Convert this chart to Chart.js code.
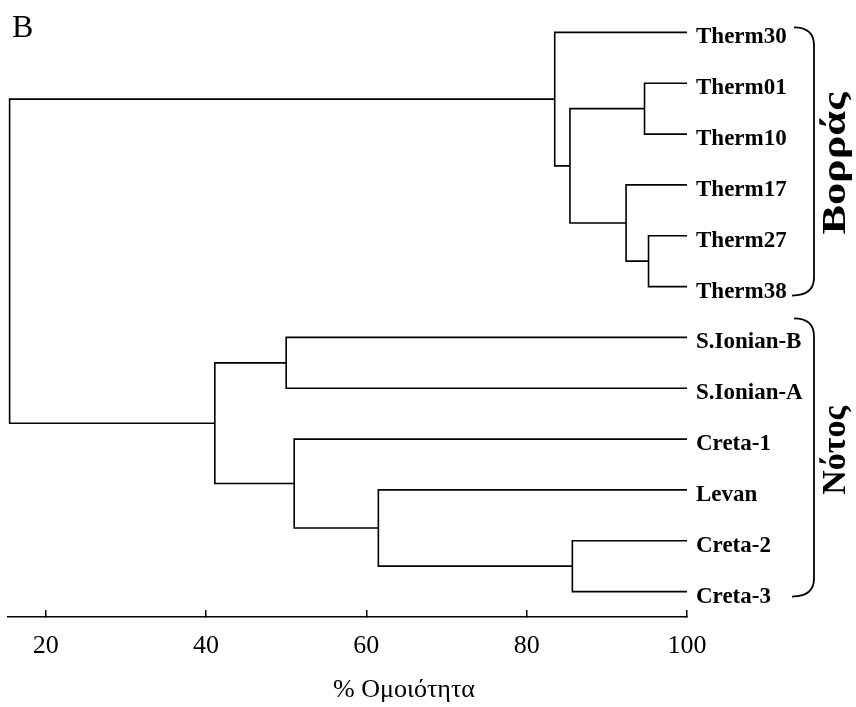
<!DOCTYPE html>
<html>
<head>
<meta charset="utf-8">
<script src="https://cdn.jsdelivr.net/npm/chart.js@4/dist/chart.umd.min.js"></script>
<style>
    body { margin: 0; background: #fff; }
    canvas { display: block; }
</style>
</head>
<body>
<canvas id="dendro" width="856" height="707"></canvas>
<script>
// leaves, top to bottom
const leaves = ['Therm30', 'Therm01', 'Therm10', 'Therm17', 'Therm27', 'Therm38',
    'S.Ionian-B', 'S.Ionian-A', 'Creta-1', 'Levan', 'Creta-2', 'Creta-3'];

// merges: ids 0-11 are leaves, merge k makes cluster 12 + k
const mergeA = [1, 4, 3, 12, 0, 10, 9, 8, 6, 20, 16];
const mergeB = [2, 5, 13, 14, 15, 11, 17, 18, 7, 19, 21];
const mergeLevel = [94.7, 95.2, 92.4, 85.4, 83.5, 85.7, 61.5, 51.0, 50.0, 41.1, 15.5];

const xTicks = [20, 40, 60, 80, 100];

const groups = ['Βορράς', 'Νότος'];
const groupFirst = [0, 6];
const groupLast = [5, 11];

const serif = "'Liberation Serif', 'Times New Roman', serif";

// node positions (x = similarity, y = leaf slot)
const nodeX = leaves.map(() => 100);
const nodeY = leaves.map((_, i) => i);
mergeLevel.forEach((lv, k) => {
    nodeX.push(lv);
    nodeY.push((nodeY[mergeA[k]] + nodeY[mergeB[k]]) / 2);
});

const datasets = mergeLevel.map((lv, k) => {
    const a = mergeA[k], b = mergeB[k];
    return {
        data: [
            { x: nodeX[a], y: nodeY[a] },
            { x: lv, y: nodeY[a] },
            { x: lv, y: nodeY[b] },
            { x: nodeX[b], y: nodeY[b] }
        ],
        showLine: true,
        borderColor: '#000',
        borderWidth: 1.6,
        pointRadius: 0,
        tension: 0,
        clip: false
    };
});

const extras = {
    id: 'extras',
    afterDraw(chart) {
        const ctx = chart.ctx;
        const y = chart.scales.y;
        const x = chart.scales.x;
        ctx.save();
        ctx.fillStyle = '#000';
        ctx.strokeStyle = '#000';

        // panel letter
        ctx.font = '32px ' + serif;
        ctx.textAlign = 'left';
        ctx.textBaseline = 'alphabetic';
        ctx.fillText('B', 12, 37);

        // axis title
        ctx.font = '26px ' + serif;
        ctx.textAlign = 'center';
        ctx.fillText('% Ομοιότητα', 404, 697);

        // brackets + group names
        const pads = [[-5, 9], [-19, 5]];
        const shift = [2, -7];
        const stretch = [1.3, 1.0];
        const xv = 814;
        groups.forEach((name, g) => {
            const top = y.getPixelForValue(groupFirst[g]) + pads[g][0];
            const bot = y.getPixelForValue(groupLast[g]) + pads[g][1];
            ctx.lineWidth = 1.8;
            ctx.beginPath();
            ctx.moveTo(794, top);
            ctx.bezierCurveTo(808, top, xv, top + 6, xv, top + 18);
            ctx.lineTo(xv, bot - 18);
            ctx.bezierCurveTo(xv, bot - 6, 806, bot, 792, bot);
            ctx.stroke();

            ctx.save();
            ctx.translate(845, (top + bot) / 2 + shift[g]);
            ctx.rotate(-Math.PI / 2);
            ctx.scale(stretch[g], 1);
            ctx.font = 'bold 34px ' + serif;
            ctx.textAlign = 'center';
            ctx.textBaseline = 'alphabetic';
            ctx.fillText(name, 0, 0);
            ctx.restore();
        });
        ctx.restore();
    }
};

new Chart(document.getElementById('dendro'), {
    type: 'scatter',
    data: { datasets },
    options: {
        responsive: false,
        animation: false,
        events: [],
        layout: { padding: { left: 8, right: 0, top: 7, bottom: 0 } },
        plugins: {
            legend: { display: false },
            tooltip: { enabled: false }
        },
        scales: {
            x: {
                type: 'linear',
                min: 15.3,
                max: 100,
                afterBuildTicks: (s) => { s.ticks = xTicks.map(v => ({ value: v })); },
                afterFit: (s) => { s.height = 90; },
                border: { display: true, color: '#000', width: 1.5 },
                grid: { display: true, drawOnChartArea: false, drawTicks: true, tickLength: -7, color: '#000', lineWidth: 1.5 },
                ticks: { color: '#000', padding: 21, maxRotation: 0, font: { family: serif, size: 26 } }
            },
            y: {
                type: 'linear',
                position: 'right',
                reverse: true,
                min: -0.5,
                max: 11.5,
                afterBuildTicks: (s) => { s.ticks = leaves.map((_, i) => ({ value: i })); },
                afterFit: (s) => { s.width = 169; s.paddingTop = 0; s.paddingBottom = 0; },
                border: { display: false },
                grid: { display: false, drawTicks: false },
                ticks: {
                    color: '#000',
                    padding: 9,
                    labelOffset: 5,
                    autoSkip: false,
                    font: { family: serif, size: 23, weight: 'bold' },
                    callback: (v) => leaves[v]
                }
            }
        }
    },
    plugins: [extras]
});
</script>
</body>
</html>
